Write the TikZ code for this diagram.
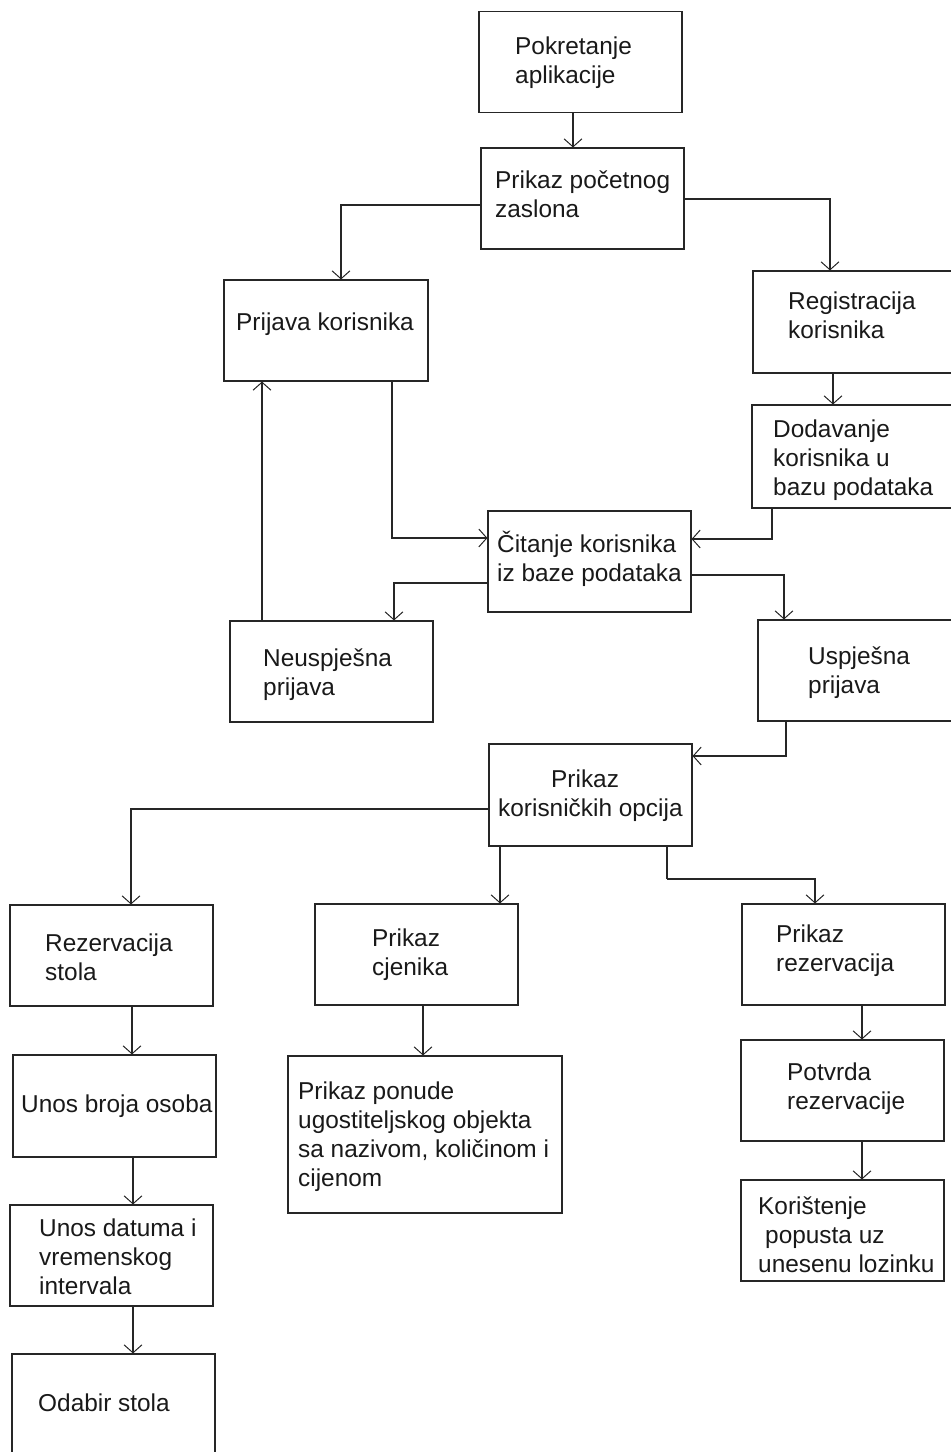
\documentclass[tikz,border=0pt]{standalone}
\usepackage{fontspec}
\setmainfont{Liberation Sans}
\usetikzlibrary{arrows.meta}
\begin{document}
\begin{tikzpicture}[x=1pt,y=-1pt,
  box/.style={draw=black!85, line width=1.1pt, rectangle, inner sep=0pt, minimum width=203pt, minimum height=101pt},
  txt/.style={anchor=base west, align=left, inner sep=0pt, text=black!90, font=\fontsize{24.4}{29}\selectfont},
  arr/.style={draw=black!85, line width=1.1pt, -{Straight Barb[length=8pt,width=18pt,line width=1pt]}},
  ln/.style={draw=black!85, line width=1.1pt}]
\useasboundingbox (0,0) rectangle (951,1452);
% boxes
\node[box] (n1) at (580.5,62) {};
\node[box] (n2) at (582.5,198.5) {};
\node[box,minimum width=204pt] (n3) at (326,330.5) {};
\node[box,minimum height=102pt] (n4) at (854.5,322) {};
\node[box,minimum width=204pt,minimum height=103pt] (n5) at (854,456.5) {};
\node[box] (n6) at (589.5,561.5) {};
\node[box] (n7) at (331.5,671.5) {};
\node[box] (n8) at (859.5,670.5) {};
\node[box,minimum height=102pt] (n9) at (590.5,795) {};
\node[box] (n10) at (111.5,955.5) {};
\node[box] (n11) at (416.5,954.5) {};
\node[box] (n12) at (843.5,954.5) {};
\node[box,minimum height=102pt] (n13) at (114.5,1106) {};
\node[box,minimum width=274pt,minimum height=157pt] (n14) at (425,1134.5) {};
\node[box] (n15) at (842.5,1090.5) {};
\node[box] (n16) at (111.5,1255.5) {};
\node[box] (n17) at (842.5,1230.5) {};
\node[box] (n18) at (113.5,1404.5) {};
% texts (anchor base = baseline of the last line)
\node[txt] (t1) at (515,83) {Pokretanje\\aplikacije};
\node[txt] (t2) at (495,217) {Prikaz početnog\\zaslona};
\node[txt] (t3) at (236,330) {Prijava korisnika};
\node[txt] (t4) at (788,338) {Registracija\\korisnika};
\node[txt] (t5) at (773,495) {Dodavanje\\korisnika u\\bazu podataka};
\node[txt] (t6) at (497,581) {Čitanje korisnika\\iz baze podataka};
\node[txt] (t7) at (263,695) {Neuspješna\\prijava};
\node[txt] (t8) at (808,693) {Uspješna\\prijava};
\node[txt] (t9) at (498,816) {\hspace*{53pt}Prikaz\\korisničkih opcija};
\node[txt] (t10) at (45,980) {Rezervacija\\stola};
\node[txt] (t11) at (372,975) {Prikaz\\cjenika};
\node[txt] (t12) at (776,971) {Prikaz\\rezervacija};
\node[txt] (t13) at (21,1112) {Unos broja osoba};
\node[txt] (t14) at (298,1186) {Prikaz ponude\\ugostiteljskog objekta\\sa nazivom, količinom i\\cijenom};
\node[txt] (t15) at (787,1109) {Potvrda\\rezervacije};
\node[txt] (t16) at (39,1294) {Unos datuma i\\vremenskog\\intervala};
\node[txt] (t17) at (758,1272) {Korištenje\\\hspace*{7pt}popusta uz\\unesenu lozinku};
\node[txt] (t18) at (38,1411) {Odabir stola};
% connectors
\draw[arr] (573,0 |- n1.south) -- (573,0 |- n2.north);
\draw[arr] (n2.west |- 0,205) -| (341,0 |- n3.north);
\draw[arr] (n2.east |- 0,199) -| (830,0 |- n4.north);
\draw[arr] (833,0 |- n4.south) -- (833,0 |- n5.north);
\draw[arr] (392,0 |- n3.south) |- (n6.west |- 0,538);
\draw[arr] (772,0 |- n5.south) |- (n6.east |- 0,539);
\draw[arr] (n6.west |- 0,583) -| (394,0 |- n7.north);
\draw[arr] (n6.east |- 0,575) -| (784,0 |- n8.north);
\draw[arr] (262,0 |- n7.north) -- (262,0 |- n3.south);
\draw[arr] (786,0 |- n8.south) |- (n9.east |- 0,756);
\draw[arr] (n9.west |- 0,809) -| (131,0 |- n10.north);
\draw[arr] (500,0 |- n9.south) -- (500,0 |- n11.north);
\coordinate (c1) at (667,879);
\draw[ln] (667,0 |- n9.south) -- (c1);
\draw[arr] (c1) -| (815,0 |- n12.north);
\draw[arr] (132,0 |- n10.south) -- (132,0 |- n13.north);
\draw[arr] (423,0 |- n11.south) -- (423,0 |- n14.north);
\draw[arr] (862,0 |- n12.south) -- (862,0 |- n15.north);
\draw[arr] (133,0 |- n13.south) -- (133,0 |- n16.north);
\draw[arr] (862,0 |- n15.south) -- (862,0 |- n17.north);
\draw[arr] (133,0 |- n16.south) -- (133,0 |- n18.north);
\end{tikzpicture}
\end{document}
